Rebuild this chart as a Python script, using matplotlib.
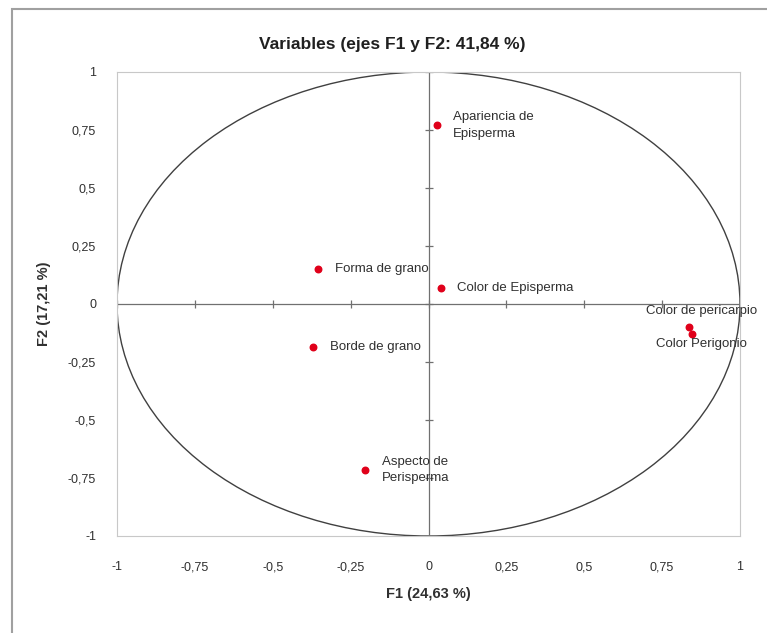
import numpy as np
import matplotlib.pyplot as plt
from matplotlib.patches import Circle, Rectangle

plt.rcParams['font.family'] = ['Liberation Sans Narrow', 'Liberation Sans', 'DejaVu Sans']

# variables and their coordinates on F1 / F2
names = ["Apariencia de\nEpisperma", "Forma de grano", "Color de Episperma",
         "Color de pericarpio", "Color Perigonio", "Borde de grano",
         "Aspecto de\nPerisperma"]
f1 = [0.026, -0.354, 0.039, 0.837, 0.847, -0.37, -0.203]
f2 = [0.77, 0.15, 0.07, -0.10, -0.13, -0.185, -0.715]
ticks = [-1, -0.75, -0.5, -0.25, 0, 0.25, 0.5, 0.75, 1]
tick_labels = ["-1", "-0,75", "-0,5", "-0,25", "0", "0,25", "0,5", "0,75", "1"]

fig = plt.figure(figsize=(7.67, 6.33), dpi=100)
fig.patches.append(Rectangle((0.016, -0.01), 1.1, 0.995, transform=fig.transFigure,
                             fill=False, edgecolor='#a0a0a0', linewidth=1.5))
ax = fig.add_axes([117/767, 1 - 536/633, (740-117)/767, (536-72)/633])

ax.set_xlim(-1, 1)
ax.set_ylim(-1, 1)
for sp in ax.spines.values():
    sp.set_color('#c8c8c8')
    sp.set_linewidth(0.8)

ax.add_patch(Circle((0, 0), 1, fill=False, edgecolor='#404040', linewidth=1.0))
ax.axhline(0, color='#707070', linewidth=0.9)
ax.axvline(0, color='#707070', linewidth=0.9)
# tick marks on the central axes
ax.plot(ticks, [0]*len(ticks), linestyle='none', marker='|', markersize=6,
        color='#707070', markeredgewidth=0.9)
ax.plot([0]*len(ticks), ticks, linestyle='none', marker='_', markersize=6,
        color='#707070', markeredgewidth=0.9)

ax.scatter(f1, f2, s=22, color='#e0001a', zorder=3)

offsets = [(12, 0, 'left'), (12, 0, 'left'), (12, 0, 'left'),
           (9, 11.5, 'center'), (6.5, -7, 'center'), (12, 0, 'left'),
           (12, 0, 'left')]
for x, y, t, (dx, dy, ha) in zip(f1, f2, names, offsets):
    ax.annotate(t, (x, y), xytext=(dx, dy), textcoords='offset points',
                ha=ha, va='center', fontsize=9.5, color='#303030', linespacing=1.5)

ax.set_xticks(ticks)
ax.set_xticklabels(tick_labels)
ax.set_yticks(ticks)
ax.set_yticklabels(tick_labels)
ax.tick_params(axis='x', length=0, labelsize=9, colors='#303030', pad=18)
ax.tick_params(axis='y', length=0, labelsize=9, colors='#303030', pad=15)

ax.set_xlabel("F1 (24,63 %)", fontsize=10.5, fontweight='bold', color='#303030', labelpad=10)
ax.set_ylabel("F2 (17,21 %)", fontsize=10.5, fontweight='bold', color='#303030', labelpad=12)
fig.text(392/767, 1 - 44/633, "Variables (ejes F1 y F2: 41,84 %)", fontsize=12.5,
         fontweight='bold', color='#202020', ha='center', va='center')

fig.savefig("out.png", dpi=100)
